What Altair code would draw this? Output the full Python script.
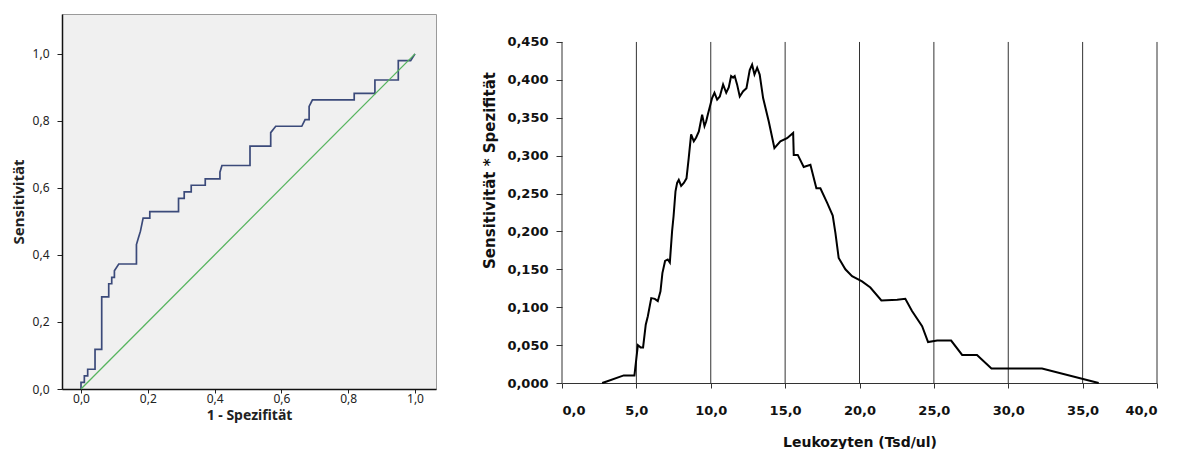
import altair as alt
import pandas as pd

# ---- Left chart: ROC curve ----
roc_fpr = [0, 0, 0.01, 0.01, 0.02, 0.02, 0.042, 0.042, 0.062, 0.062, 0.083, 0.083, 0.092, 0.092,
           0.10, 0.10, 0.113, 0.166, 0.166, 0.172, 0.178, 0.186, 0.206, 0.206, 0.292, 0.292,
           0.309, 0.309, 0.33, 0.33, 0.372, 0.372, 0.416, 0.416, 0.422, 0.506, 0.506, 0.568,
           0.568, 0.583, 0.661, 0.671, 0.683, 0.683, 0.693, 0.818, 0.818, 0.880, 0.880, 0.950,
           0.950, 0.987, 1.0]
roc_tpr = [0, 0.020, 0.020, 0.039, 0.039, 0.059, 0.059, 0.118, 0.118, 0.275, 0.275, 0.314, 0.314,
           0.333, 0.333, 0.353, 0.373, 0.373, 0.431, 0.451, 0.471, 0.510, 0.510, 0.529, 0.529,
           0.569, 0.569, 0.588, 0.588, 0.608, 0.608, 0.627, 0.627, 0.647, 0.667, 0.667, 0.725,
           0.725, 0.765, 0.784, 0.784, 0.804, 0.804, 0.843, 0.863, 0.863, 0.882, 0.882, 0.922,
           0.922, 0.980, 0.980, 1.0]
diag_x = [0, 1]
diag_y = [0, 1]
roc_ticks = [0, 0.2, 0.4, 0.6, 0.8, 1.0]

# ---- Right chart: Sensitivity * Specificity vs leukocytes ----
leuko = [2.7, 3.0, 4.15, 4.87, 5.1, 5.28, 5.45, 5.63, 5.77, 6.0, 6.24, 6.44, 6.62, 6.75, 6.93, 7.11,
         7.25, 7.4, 7.5, 7.63, 7.74, 7.85, 8.01, 8.19, 8.37, 8.52, 8.68, 8.86, 9.02, 9.2, 9.42, 9.58,
         9.69, 9.8, 10.09, 10.25, 10.43, 10.61, 10.83, 11.04, 11.21, 11.37, 11.5, 11.61, 11.77,
         11.95, 12.18, 12.4, 12.62, 12.78, 12.94, 13.12, 13.29, 13.52, 13.9, 14.28, 14.68, 15.13,
         15.54, 15.58, 15.85, 16.25, 16.7, 17.1, 17.37, 17.82, 18.2, 18.38, 18.6, 19.05, 19.5,
         20.17, 20.73, 21.47, 22.53, 23.08, 23.53, 24.21, 24.61, 25.22, 26.16, 26.9, 27.9, 28.87,
         32.27, 36.08]
product = [0.0, 0.002, 0.010, 0.010, 0.050, 0.047, 0.047, 0.077, 0.088, 0.112, 0.111, 0.108, 0.121,
           0.145, 0.161, 0.163, 0.159, 0.200, 0.220, 0.253, 0.264, 0.268, 0.260, 0.264, 0.270,
           0.297, 0.328, 0.319, 0.324, 0.332, 0.354, 0.339, 0.345, 0.354, 0.376, 0.383, 0.374,
           0.378, 0.394, 0.383, 0.390, 0.405, 0.403, 0.405, 0.394, 0.378, 0.385, 0.389, 0.413,
           0.420, 0.407, 0.416, 0.407, 0.376, 0.345, 0.310, 0.319, 0.323, 0.330, 0.301, 0.301,
           0.285, 0.288, 0.257, 0.257, 0.238, 0.221, 0.198, 0.165, 0.150, 0.141, 0.134, 0.126,
           0.109, 0.110, 0.111, 0.095, 0.075, 0.054, 0.056, 0.056, 0.037, 0.037, 0.019, 0.019, 0.0]
x_ticks = [0, 5, 10, 15, 20, 25, 30, 35, 40]
grid_x = [5, 10, 15, 20, 25, 30, 35, 40]
y_ticks = [0, 0.05, 0.10, 0.15, 0.20, 0.25, 0.30, 0.35, 0.40, 0.45]

# ---------------- Left chart ----------------
roc_df = pd.DataFrame({"fpr": roc_fpr, "tpr": roc_tpr, "order": list(range(len(roc_fpr)))})
diag_df = pd.DataFrame({"fpr": diag_x, "tpr": diag_y})

LFONT = "Noto Sans"
lxs = alt.Scale(domain=[-0.0569, 1.0629], nice=False, zero=False)
lys = alt.Scale(domain=[0, 1.119], nice=False, zero=False)
lx_axis = alt.Axis(values=roc_ticks, title="1 - Spezifität", grid=False,
                   labelExpr="replace(format(datum.value, '.1f'), '.', ',')",
                   labelFont=LFONT, labelFontSize=12, labelColor="#222", labelPadding=0,
                   tickSize=4, tickColor="#222", domainColor="#111", domainWidth=1.5,
                   titleFont=LFONT, titleFontSize=14, titleFontWeight="bold", titleColor="#222",
                   titlePadding=4)
ly_axis = alt.Axis(values=roc_ticks, title="Sensitivität", grid=False,
                   labelExpr="replace(format(datum.value, '.1f'), '.', ',')",
                   labelFont=LFONT, labelFontSize=12, labelColor="#222", labelPadding=8,
                   tickSize=5, tickColor="#222", domainColor="#111", domainWidth=1.5,
                   titleFont=LFONT, titleFontSize=15, titleFontWeight="bold", titleColor="#222",
                   titlePadding=6)

roc_line = alt.Chart(roc_df).mark_line(color="#3b4a7a", strokeWidth=1.7).encode(
    x=alt.X("fpr:Q", scale=lxs, axis=lx_axis),
    y=alt.Y("tpr:Q", scale=lys, axis=ly_axis),
    order="order:Q",
)
diag_line = alt.Chart(diag_df).mark_line(color="#56b45e", strokeWidth=1.3).encode(
    x=alt.X("fpr:Q", scale=lxs, axis=lx_axis),
    y=alt.Y("tpr:Q", scale=lys, axis=ly_axis),
)
left = alt.layer(roc_line, diag_line,
                 view=alt.ViewBackground(fill="#f0f0f0", stroke="#9a9a9a", strokeWidth=1)
                 ).properties(width=374, height=375)

# ---------------- Right chart ----------------
RFONT = "DejaVu Sans"
curve_df = pd.DataFrame({"x": leuko, "y": product})
grid_df = pd.DataFrame({"x": grid_x, "y": [0.0] * len(grid_x), "y2": [0.45] * len(grid_x)})
yline_df = pd.DataFrame({"x": [0], "y": [0.0], "y2": [0.45]})

rxs = alt.Scale(domain=[0, 40], nice=False, zero=False)
rys = alt.Scale(domain=[0, 0.4869], nice=False, zero=False)
rx_axis = alt.Axis(values=x_ticks, title="Leukozyten (Tsd/ul)", grid=False,
                   labelExpr="replace(format(datum.value, '.1f'), '.', ',')",
                   labelFont=RFONT, labelFontSize=13, labelFontWeight="bold", labelColor="#111",
                   labelPadding=16, tickSize=5, tickColor="#333", domainColor="#333",
                   titleFont=RFONT, titleFontSize=14, titleFontWeight="bold", titleColor="#111",
                   titlePadding=18)
ry_axis = alt.Axis(values=y_ticks, title="Sensitivität * Spezifität", grid=False, domain=False,
                   labelExpr="replace(format(datum.value, '.3f'), '.', ',')",
                   labelFont=RFONT, labelFontSize=13, labelFontWeight="bold", labelColor="#111",
                   labelPadding=8, tickSize=6, tickColor="#333",
                   titleFont=RFONT, titleFontSize=15, titleFontWeight="bold", titleColor="#111",
                   titlePadding=9, titleY=156)

grid = alt.Chart(grid_df).mark_rule(color="#333", strokeWidth=1).encode(
    x=alt.X("x:Q", scale=rxs, axis=rx_axis),
    y=alt.Y("y:Q", scale=rys, axis=ry_axis),
    y2="y2:Q",
)
yline = alt.Chart(yline_df).mark_rule(color="#333", strokeWidth=1).encode(
    x=alt.X("x:Q", scale=rxs, axis=rx_axis),
    y=alt.Y("y:Q", scale=rys, axis=ry_axis),
    y2="y2:Q",
)
curve = alt.Chart(curve_df).mark_line(color="black", strokeWidth=2).encode(
    x=alt.X("x:Q", scale=rxs, axis=rx_axis),
    y=alt.Y("y:Q", scale=rys, axis=ry_axis),
)
right = alt.layer(grid, yline, curve,
                  view=alt.ViewBackground(fill="white", stroke=None)
                  ).properties(width=595, height=369)

chart = alt.hconcat(left, right, spacing=45).properties(
    padding={"left": 2, "top": 5, "right": 5, "bottom": 0},
    background="white",
)

chart.save("out.html", embed_options={"renderer": "svg", "actions": False})
